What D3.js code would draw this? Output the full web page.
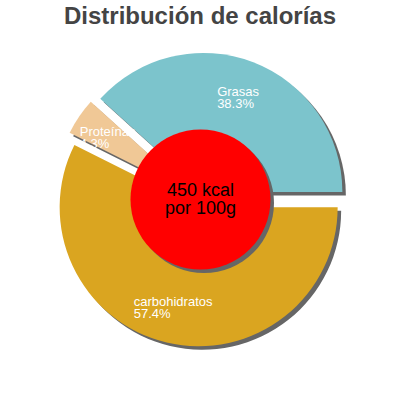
<!DOCTYPE html>
<html>
<head>
<meta charset="utf-8">
<script src="https://cdn.jsdelivr.net/npm/d3@7"></script>
<style>
  html, body { margin: 0; padding: 0; background: #fff; }
  svg { display: block; font-family: "Liberation Sans", Arial, sans-serif; }
</style>
</head>
<body>
<div id="chart"></div>
<script>
// Chart data
const title = "Distribución de calorías";
const categories = ["carbohidratos", "Proteínas", "Grasas"];
const percents = [57.4, 4.3, 38.3];
const centerLines = ["450 kcal", "por 100g"];

const width = 400;
const height = 400;
const cx = 200.5, cy = 199.5;
const radius = 139;
const sliceOffset = 8;
const shadow = { dx: 3.5, dy: 3.5, color: "#666666" };

const color = d3.scaleOrdinal()
    .domain(categories)
    .range(["#daa520", "#f0c896", "#7cc4cc"]);

const data = categories.map((c, i) => ({ name: c, value: percents[i] }));

const svg = d3.select("#chart")
    .append("svg")
    .attr("width", width)
    .attr("height", height);

// Title
svg.append("text")
    .attr("x", width / 2)
    .attr("y", 24)
    .attr("text-anchor", "middle")
    .style("font-size", "24px")
    .style("font-weight", "bold")
    .style("fill", "#444444")
    .text(title);

const pie = d3.pie()
    .value(d => d.value)
    .sort(null)
    .startAngle(Math.PI / 2)
    .endAngle(Math.PI / 2 + 2 * Math.PI);

const arc = d3.arc()
    .innerRadius(0)
    .outerRadius(radius);

const arcs = pie(data);

// offset each slice along its middle angle
function sliceShift(d, extra) {
    const a = (d.startAngle + d.endAngle) / 2;
    const r = sliceOffset + (extra || 0);
    return [Math.sin(a) * r, -Math.cos(a) * r];
}

const chart = svg.append("g")
    .attr("transform", `translate(${cx},${cy})`);

// Shadows
chart.selectAll("path.shadow")
    .data(arcs)
    .join("path")
    .attr("class", "shadow")
    .attr("d", arc)
    .attr("fill", shadow.color)
    .attr("transform", d => {
        const [x, y] = sliceShift(d);
        return `translate(${x + shadow.dx},${y + shadow.dy})`;
    });

// Slices
chart.selectAll("path.slice")
    .data(arcs)
    .join("path")
    .attr("class", "slice")
    .attr("d", arc)
    .attr("fill", d => color(d.data.name))
    .attr("transform", d => {
        const [x, y] = sliceShift(d);
        return `translate(${x},${y})`;
    });

// Labels (left aligned block centred on the slice)
const labels = chart.selectAll("text.label")
    .data(arcs)
    .join("text")
    .attr("class", "label")
    .style("font-size", "13px")
    .style("fill", "#ffffff");

labels.each(function(d) {
    const t = d3.select(this);
    const [x, y] = sliceShift(d, radius * 0.735);
    t.append("tspan").attr("x", x).attr("y", y - 1).text(d.data.name);
    t.append("tspan").attr("x", x).attr("y", y + 11).text(d3.format(".1f")(d.data.value) + "%");
    let w = 0;
    t.selectAll("tspan").each(function() { w = Math.max(w, this.getComputedTextLength()); });
    t.selectAll("tspan").attr("x", x - w / 2 - 2);
});

// Centre circle with energy
chart.append("circle")
    .attr("cx", shadow.dx)
    .attr("cy", shadow.dy)
    .attr("r", 70)
    .attr("fill", shadow.color);

chart.append("circle")
    .attr("r", 70)
    .attr("fill", "#ff0000");

chart.append("text")
    .attr("text-anchor", "middle")
    .style("font-size", "18px")
    .style("fill", "#000000")
    .selectAll("tspan")
    .data(centerLines)
    .join("tspan")
    .attr("x", 0)
    .attr("y", (d, i) => -4 + i * 18)
    .text(d => d);
</script>
</body>
</html>
